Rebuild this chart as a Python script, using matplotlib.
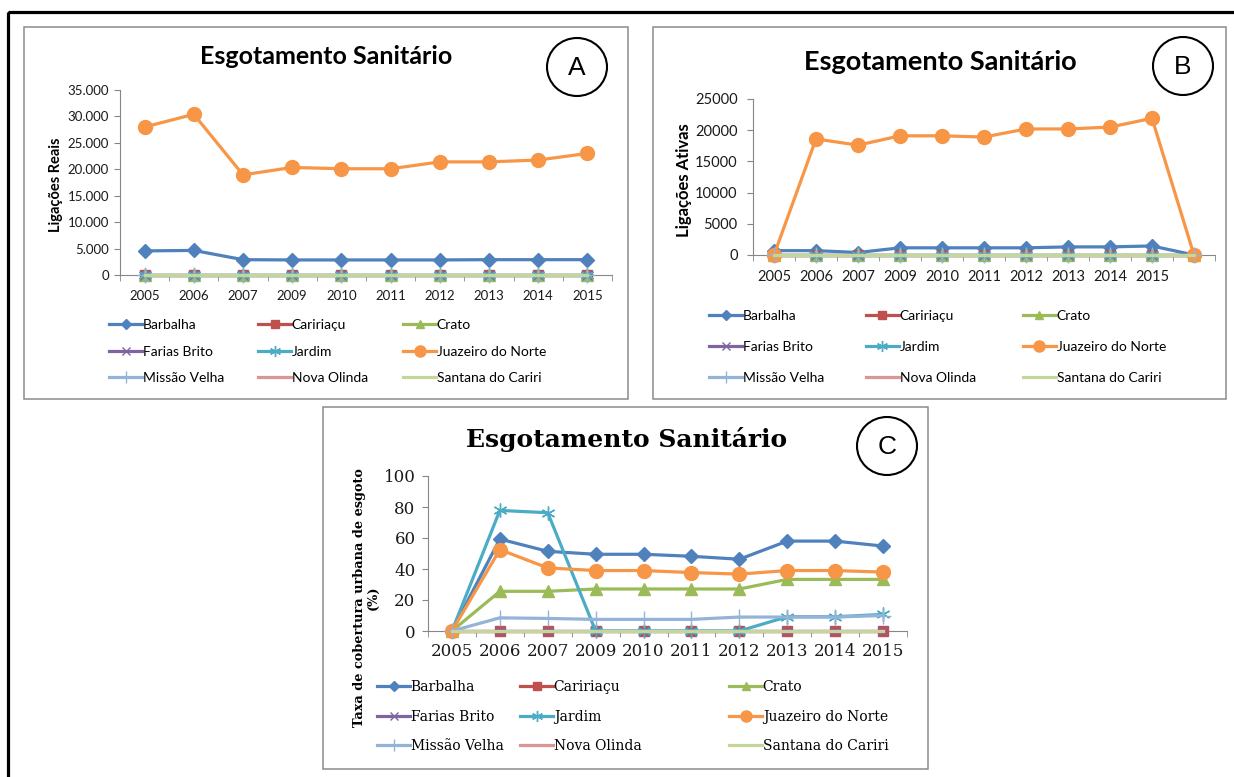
import numpy as np
import matplotlib.pyplot as plt
from matplotlib.patches import Rectangle, Ellipse

# anos e municípios
anos = ['2005', '2006', '2007', '2009', '2010', '2011', '2012', '2013', '2014', '2015']
anos_b = anos + ['']
municipios = ['Barbalha', 'Caririaçu', 'Crato', 'Farias Brito', 'Jardim',
              'Juazeiro do Norte', 'Missão Velha', 'Nova Olinda', 'Santana do Cariri']

# (A) ligações reais
a_barbalha = [4560, 4650, 2900, 2850, 2850, 2850, 2850, 2900, 2900, 2900]
a_juazeiro = [28000, 30400, 18950, 20350, 20100, 20100, 21400, 21400, 21750, 23000]
a_zeros = [0] * 10

# (B) ligações ativas
b_barbalha = [700, 700, 400, 1150, 1150, 1150, 1150, 1300, 1300, 1450, 0]
b_juazeiro = [0, 18600, 17600, 19100, 19100, 18900, 20200, 20200, 20500, 21900, 0]
b_zeros = [0] * 11

# (C) taxa de cobertura urbana de esgoto (%)
c_barbalha = [0, 59.3, 51.4, 49.5, 49.5, 48.2, 46.3, 58.0, 58.0, 54.8]
c_crato = [0, 25.6, 25.6, 27.1, 27.1, 27.1, 27.1, 33.3, 33.3, 33.3]
c_jardim = [0, 77.8, 76.3, 0, 0, 0, 0, 9.2, 9.2, 10.7]
c_juazeiro = [0, 52.5, 40.7, 39.0, 39.0, 37.7, 36.7, 39.0, 39.0, 38.0]
c_missao = [0, 8.5, 8.1, 7.5, 7.5, 7.5, 9.0, 9.0, 9.0, 10.0]
c_zeros = [0] * 10

cores = ['#4F81BD', '#C0504D', '#9BBB59', '#8064A2', '#4BACC6',
         '#F79646', '#95B3D7', '#D99694', '#C3D69B']
marcadores = ['D', 's', '^', 'x', (6, 2, 0), 'o', '+', None, None]
tam_marc = [7, 7, 8, 7, 10, 10, 11, 0, 0]

SANS = 'Lato'
SERIF = 'DejaVu Serif'
W, H = 1234, 777

fig = plt.figure(figsize=(W / 100, H / 100), dpi=100)

# camada de fundo em pixels: molduras, títulos, letras
bg = fig.add_axes([0, 0, 1, 1])
bg.set_xlim(0, W)
bg.set_ylim(H, 0)
bg.axis('off')

bg.add_patch(Rectangle((8, 12), W + 20, H + 20, fill=False, ec='black', lw=2.3))
for x0, y0, x1, y1 in [(24, 27, 628, 399), (653, 27, 1226, 399), (323, 407, 928, 769)]:
    bg.add_patch(Rectangle((x0, y0), x1 - x0, y1 - y0, fill=False, ec='#8C8C8C', lw=1.1))

for letra, cx, cy in [('A', 577, 67), ('B', 1183, 66), ('C', 887, 446)]:
    bg.add_patch(Ellipse((cx, cy), 60, 58, fill=False, ec='black', lw=1.5))
    bg.text(cx, cy + 1, letra, ha='center', va='center', fontsize=19,
            family='Liberation Sans')

bg.text(326, 57, 'Esgotamento Sanitário', ha='center', va='center',
        fontsize=18, fontweight='bold', family=SANS)
bg.text(940, 62, 'Esgotamento Sanitário', ha='center', va='center',
        fontsize=19.5, fontweight='bold', family=SANS)
bg.text(627, 440, 'Esgotamento Sanitário', ha='center', va='center',
        fontsize=18, fontweight='bold', family=SERIF)

bg.text(56, 185, 'Ligações Reais', rotation=90, ha='center', va='center',
        fontsize=10.5, fontweight='bold', family=SANS)
bg.text(684, 180, 'Ligações Ativas', rotation=90, ha='center', va='center',
        fontsize=12, fontweight='bold', family=SANS)
bg.text(366, 598, 'Taxa de cobertura urbana de esgoto\n(%)', rotation=90,
        ha='center', va='center', multialignment='center', linespacing=1.1,
        fontsize=9.3, fontweight='bold', family=SERIF)


def grafico(x0, x1, ytop, ybot, cats, ylim, yticks, ylabels, fam, fs, xpad, ypad):
    ax = fig.add_axes([x0 / W, 1 - ybot / H, (x1 - x0) / W, (ybot - ytop) / H])
    ax.patch.set_alpha(0)
    n = len(cats)
    ax.set_xlim(-0.5, n - 0.5)
    ax.set_ylim(*ylim)
    for s in ['top', 'right']:
        ax.spines[s].set_visible(False)
    for s in ['left', 'bottom']:
        ax.spines[s].set_color('#868686')
        ax.spines[s].set_linewidth(0.8)
    ax.set_xticks(np.arange(n))
    ax.set_xticklabels(cats, family=fam, fontsize=fs, color='#1A1A1A')
    ax.set_xticks(np.arange(n + 1) - 0.5, minor=True)
    ax.tick_params(axis='x', which='major', length=0, pad=xpad)
    ax.tick_params(axis='x', which='minor', length=4, color='#868686')
    ax.set_yticks(yticks)
    ax.set_yticklabels(ylabels, family=fam, fontsize=fs, color='#1A1A1A')
    ax.tick_params(axis='y', length=4, color='#868686', pad=ypad)
    return ax


def series(ax, valores):
    hs = []
    for i, v in enumerate(valores):
        (h,) = ax.plot(np.arange(len(v)), v, color=cores[i], lw=2.3,
                       marker=marcadores[i], ms=tam_marc[i], mfc=cores[i],
                       mec=cores[i], mew=1.0, clip_on=False, zorder=3 + i * 0.1,
                       label=municipios[i])
        hs.append(h)
    return hs


def legenda(hs, xs, ytop, fam, fs, gap):
    hl = 33 / (fs * 100 / 72)
    for c in range(3):
        fig.legend(hs[c::3], [h.get_label() for h in hs[c::3]], loc='upper left',
                   bbox_to_anchor=(xs[c] / W, 1 - ytop / H), frameon=False,
                   borderpad=0, borderaxespad=0, handlelength=hl,
                   handletextpad=0.05, labelspacing=gap, markerscale=0.8,
                   prop={'family': fam, 'size': fs})


# painel A
ax_a = grafico(120, 612, 90, 275, anos, (0, 35000), range(0, 35001, 5000),
               ['0'] + ['{:,}'.format(v).replace(',', '.') for v in range(5000, 35001, 5000)],
               SANS, 9.5, 11, 4)
hs_a = series(ax_a, [a_barbalha, a_zeros, a_zeros, a_zeros, a_zeros,
                     a_juazeiro, a_zeros, a_zeros, a_zeros])
legenda(hs_a, [109, 258, 403], 319, SANS, 10, 1.05)

# painel B
ax_b = grafico(753, 1215, 99, 255, anos_b, (0, 25000), range(0, 25001, 5000),
               [str(v) for v in range(0, 25001, 5000)], SANS, 10.5, 11, 7)
hs_b = series(ax_b, [b_barbalha, b_zeros, b_zeros, b_zeros, b_zeros,
                     b_juazeiro, b_zeros, b_zeros, b_zeros])
legenda(hs_b, [709, 866, 1023], 310, SANS, 10, 1.38)

# painel C
ax_c = grafico(428, 907, 476, 631, anos, (0, 100), range(0, 101, 20),
               [str(v) for v in range(0, 101, 20)], SERIF, 12, 9, 5)
hs_c = series(ax_c, [c_barbalha, c_zeros, c_crato, c_zeros, c_jardim,
                     c_juazeiro, c_missao, c_zeros, c_zeros])
legenda(hs_c, [377, 520, 729], 680, SERIF, 10, 1.12)

fig.savefig('out.png', dpi=100)
